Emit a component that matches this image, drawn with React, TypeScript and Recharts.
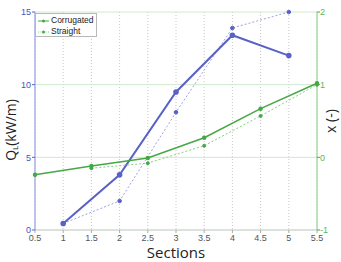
import React from 'react';
import { LineChart, Line, XAxis, YAxis, CartesianGrid } from 'recharts';

const sections = [0.5, 1, 1.5, 2, 2.5, 3, 3.5, 4, 4.5, 5, 5.5];
const qCorrugated: (number | null)[] = [null, 0.45, null, 3.8, null, 9.5, null, 13.4, null, 12.0, null];
const qStraight: (number | null)[] = [null, 0.45, null, 2.0, null, 8.1, null, 13.9, null, 15.0, null];
const xCorrugated: (number | null)[] = [-0.24, null, -0.12, null, -0.01, null, 0.27, null, 0.67, null, 1.02];
const xStraight: (number | null)[] = [null, null, -0.15, null, -0.08, null, 0.16, null, 0.57, null, 1.0];

const xTicks = [0.5, 1, 1.5, 2, 2.5, 3, 3.5, 4, 4.5, 5, 5.5];
const leftTicks = [0, 5, 10, 15];
const rightTicks = [-1, 0, 1, 2];

const data = sections.map((s, i) => ({
  s,
  qc: qCorrugated[i],
  qs: qStraight[i],
  xc: xCorrugated[i],
  xs: xStraight[i],
}));

const BLUE = '#5a61c6';
const BLUE_L = '#9ea3e0';
const GREEN = '#45a845';
const GREEN_L = '#84cf84';
const tickFont = { fontSize: 9, fontFamily: 'Liberation Sans, Arial, sans-serif' };

const LegendBox = () => (
  <div
    style={{
      position: 'absolute',
      left: 35,
      top: 13,
      width: 62,
      height: 24,
      border: '1px solid #b8b8b8',
      background: '#fff',
      fontFamily: 'Liberation Sans, Arial, sans-serif',
      fontSize: 8.5,
      color: '#222',
      lineHeight: '11px',
      boxSizing: 'border-box',
      paddingTop: 1,
    }}
  >
    <div style={{ display: 'flex', alignItems: 'center' }}>
      <svg width={14} height={10}>
        <line x1={2} x2={13} y1={5} y2={5} stroke={GREEN} strokeWidth={1} />
        <circle cx={7.5} cy={5} r={1.5} fill={GREEN} />
      </svg>
      <span style={{ marginLeft: 1 }}>Corrugated</span>
    </div>
    <div style={{ display: 'flex', alignItems: 'center' }}>
      <svg width={14} height={10}>
        <line x1={2} x2={13} y1={5} y2={5} stroke={GREEN_L} strokeWidth={1} strokeDasharray="1 1.5" />
        <circle cx={7.5} cy={5} r={1.5} fill={GREEN} />
      </svg>
      <span style={{ marginLeft: 1 }}>Straight</span>
    </div>
  </div>
);

export default function App() {
  return (
    <div style={{ position: 'absolute', left: 0, top: 0, width: 341, height: 262, background: '#fff' }}>
      <LineChart width={341} height={262} data={data} margin={{ top: 12, right: 0, bottom: 0, left: 0 }}>
        <CartesianGrid yAxisId="left" horizontal={false} stroke="#c8c8c8" strokeDasharray="1 2" />
        <CartesianGrid yAxisId="left" vertical={false} stroke="#cfe9cf" />
        <XAxis
          dataKey="s"
          type="number"
          domain={[0.5, 5.5]}
          ticks={xTicks}
          height={32}
          axisLine={{ stroke: '#d0d0d0' }}
          tickLine={{ stroke: '#aaa' }}
          tickSize={3}
          tick={{ ...tickFont, fill: '#555' }}
          label={{
            value: 'Sections',
            position: 'insideBottom',
            offset: 4,
            style: { fontSize: 15, fontFamily: 'Open Sans, sans-serif', fill: '#222' },
          }}
        />
        <YAxis
          yAxisId="left"
          domain={[0, 15]}
          ticks={leftTicks}
          width={35}
          axisLine={{ stroke: '#a9b2ea', strokeWidth: 1.5 }}
          tickLine={{ stroke: BLUE }}
          tickSize={3}
          tickMargin={1}
          tick={{ ...tickFont, fill: '#4a52c0' }}
          label={{
            content: () => (
              <text
                x={12}
                y={130}
                transform="rotate(-90 12 130)"
                textAnchor="middle"
                dominantBaseline="middle"
                style={{ fontSize: 14, fontFamily: 'Open Sans, sans-serif', fill: '#222' }}
              >
                Q
                <tspan fontSize={8} dy={4}>L</tspan>
                <tspan dy={-4}>(kW/m)</tspan>
              </text>
            ),
          }}
        />
        <YAxis
          yAxisId="right"
          orientation="right"
          domain={[-1, 2]}
          ticks={rightTicks}
          width={24}
          axisLine={{ stroke: '#a8dca8', strokeWidth: 1.5 }}
          tickLine={{ stroke: GREEN }}
          tickSize={3}
          tickMargin={0}
          tick={{ ...tickFont, fill: '#5ab85a' }}
          label={{
            content: () => (
              <text
                x={332}
                y={121}
                transform="rotate(-90 332 121)"
                textAnchor="middle"
                dominantBaseline="middle"
                style={{ fontSize: 14, fontFamily: 'Open Sans, sans-serif', fill: '#222' }}
              >
                x (-)
              </text>
            ),
          }}
        />
        <Line
          yAxisId="left"
          dataKey="qs"
          stroke={BLUE_L}
          strokeWidth={1}
          strokeDasharray="2 2"
          connectNulls
          dot={{ r: 1.8, fill: BLUE, stroke: BLUE, strokeDasharray: '' }}
          isAnimationActive={false}
        />
        <Line
          yAxisId="left"
          dataKey="qc"
          stroke={BLUE}
          strokeWidth={2}
          connectNulls
          dot={{ r: 1.8, fill: BLUE, stroke: BLUE }}
          isAnimationActive={false}
        />
        <Line
          yAxisId="right"
          dataKey="xs"
          stroke={GREEN_L}
          strokeWidth={1}
          strokeDasharray="2 2"
          connectNulls
          dot={{ r: 1.5, fill: GREEN, stroke: GREEN, strokeDasharray: '' }}
          isAnimationActive={false}
        />
        <Line
          yAxisId="right"
          dataKey="xc"
          stroke={GREEN}
          strokeWidth={1.5}
          connectNulls
          dot={{ r: 1.5, fill: GREEN, stroke: GREEN }}
          isAnimationActive={false}
        />
      </LineChart>
      <LegendBox />
    </div>
  );
}
